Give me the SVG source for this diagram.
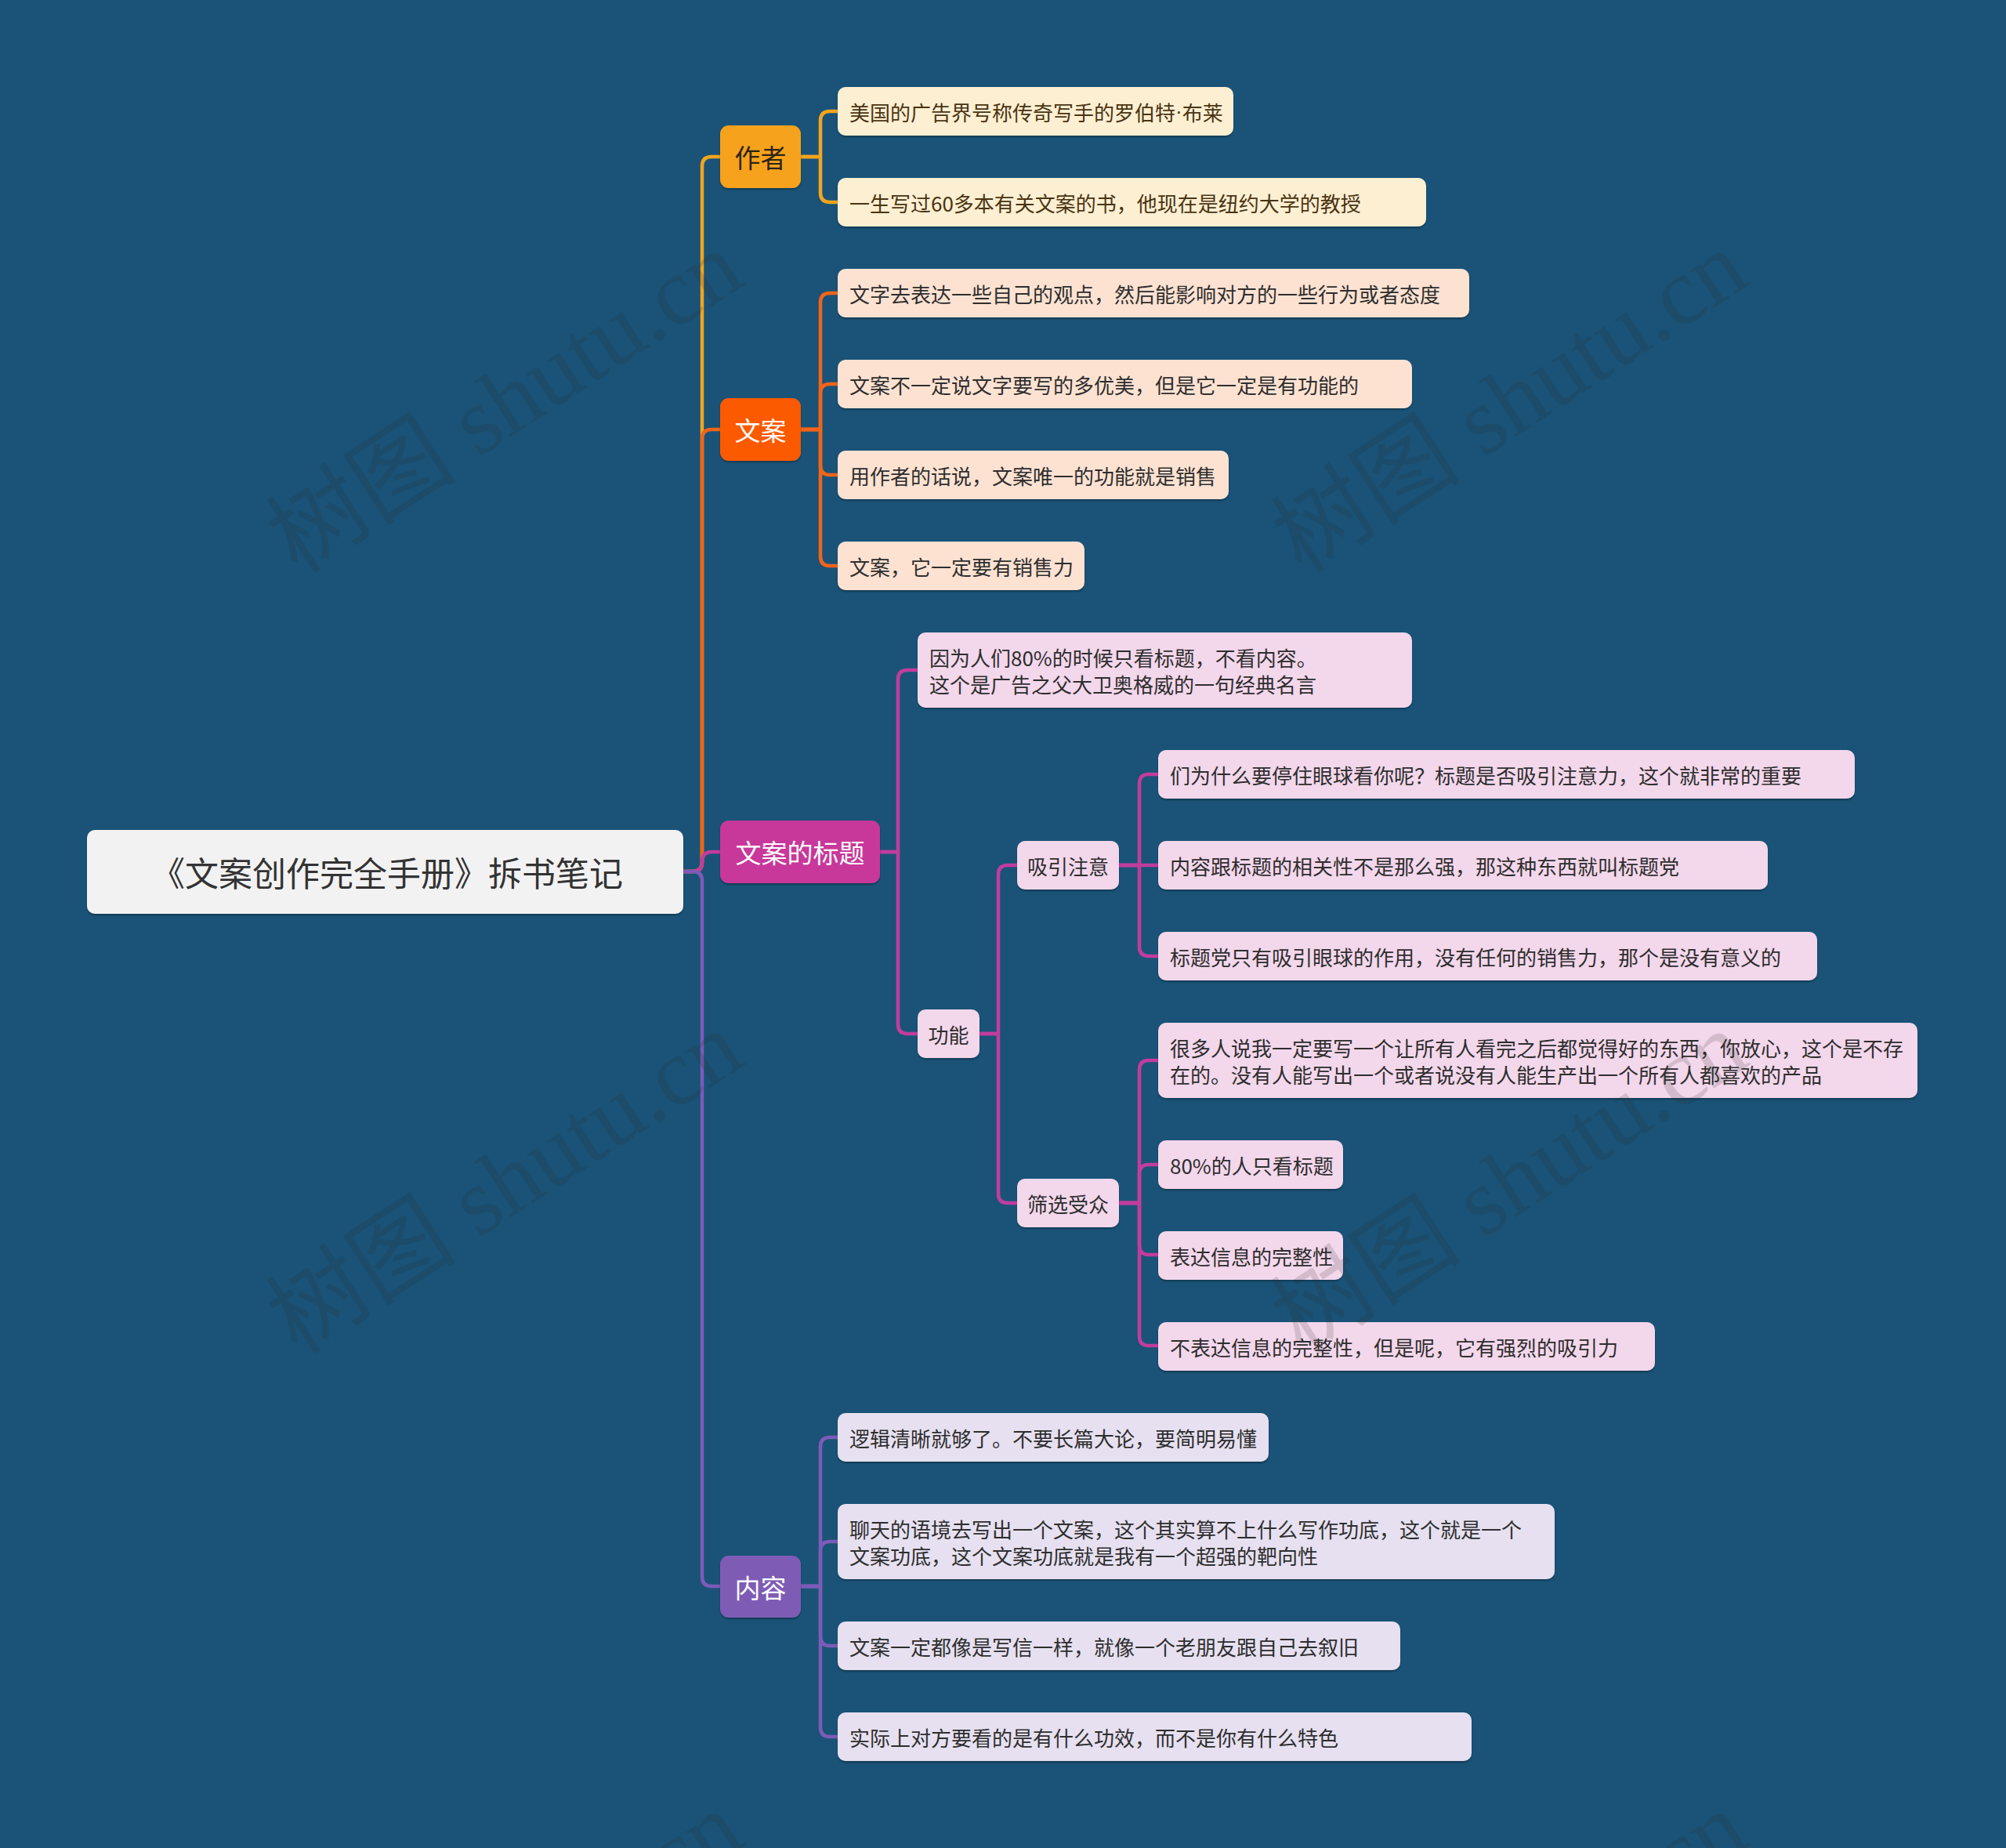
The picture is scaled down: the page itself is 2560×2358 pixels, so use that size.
<svg xmlns="http://www.w3.org/2000/svg" width="2560" height="2358" viewBox="0 0 2560 2358">
<defs>
<filter id="sh" x="-5%" y="-10%" width="110%" height="130%"><feDropShadow dx="0" dy="2" stdDeviation="1.2" flood-color="#000" flood-opacity="0.3"/></filter>
</defs>
<style>
text{font-family:"Noto Sans CJK SC","Noto Sans",sans-serif;dominant-baseline:central}
.leaf{font-size:26px;fill:#2e2e2e}
.topic{font-size:33px;fill:#fff;text-anchor:middle}
.sub{font-size:26px;fill:#2e2e2e;text-anchor:middle}
.y{fill:#FDEFD2}.o{fill:#FDE2D2}.m{fill:#F3D7EB}.p{fill:#E6E0F0}
.cy{stroke:#F2A51F}.co{stroke:#F26418}.cm{stroke:#C23C9E}.cp{stroke:#7D5BB8}
#connectors path{fill:none;stroke-width:4.5;stroke-linecap:round;stroke-linejoin:round}
.wm{font-family:"Liberation Serif","Noto Sans CJK SC",serif;font-size:122px;fill:#2a2a2a;fill-opacity:0.16;dominant-baseline:auto}
</style>
<rect width="2560" height="2358" fill="#1a5377"/>
<g id="connectors">
<path class="cy" d="M872 1112 H884 Q896 1112 896 1100 V212 Q896 200 908 200 H919"/>
<path class="co" d="M872 1112 H884 Q896 1112 896 1100 V560 Q896 548 908 548 H919"/>
<path class="cm" d="M872 1112 H884 Q896 1112 896 1100 Q896 1087 908 1087 H919"/>
<path class="cp" d="M872 1112 H884 Q896 1112 896 1124 V2012 Q896 2024 908 2024 H919"/>
<path class="cy" d="M1022 200 H1047 V154 Q1047 142 1059 142 H1069"/>
<path class="cy" d="M1022 200 H1047 V246 Q1047 258 1059 258 H1069"/>
<path class="co" d="M1022 548 H1047 V386 Q1047 374 1059 374 H1069"/>
<path class="co" d="M1022 548 H1047 V502 Q1047 490 1059 490 H1069"/>
<path class="co" d="M1022 548 H1047 V594 Q1047 606 1059 606 H1069"/>
<path class="co" d="M1022 548 H1047 V710 Q1047 722 1059 722 H1069"/>
<path class="cm" d="M1123 1087 H1146 V867 Q1146 855 1158 855 H1171"/>
<path class="cm" d="M1123 1087 H1146 V1307 Q1146 1319 1158 1319 H1171"/>
<path class="cm" d="M1250 1319 H1274 V1116 Q1274 1104 1286 1104 H1298"/>
<path class="cm" d="M1250 1319 H1274 V1523 Q1274 1535 1286 1535 H1298"/>
<path class="cm" d="M1428 1104 H1454 V1000 Q1454 988 1466 988 H1478"/>
<path class="cm" d="M1428 1104 H1478"/>
<path class="cm" d="M1428 1104 H1454 V1208 Q1454 1220 1466 1220 H1478"/>
<path class="cm" d="M1428 1535 H1454 V1365 Q1454 1353 1466 1353 H1478"/>
<path class="cm" d="M1428 1535 H1454 V1498 Q1454 1486 1466 1486 H1478"/>
<path class="cm" d="M1428 1535 H1454 V1589 Q1454 1601 1466 1601 H1478"/>
<path class="cm" d="M1428 1535 H1454 V1705 Q1454 1717 1466 1717 H1478"/>
<path class="cp" d="M1022 2024 H1047 V1846 Q1047 1834 1059 1834 H1069"/>
<path class="cp" d="M1022 2024 H1047 V1979 Q1047 1967 1059 1967 H1069"/>
<path class="cp" d="M1022 2024 H1047 V2088 Q1047 2100 1059 2100 H1069"/>
<path class="cp" d="M1022 2024 H1047 V2204 Q1047 2216 1059 2216 H1069"/>
</g>
<g id="root"><rect x="111" y="1059" width="761" height="107" rx="10" fill="#F2F2F2" filter="url(#sh)"/><text x="494" y="1112" font-size="43" fill="#333" text-anchor="middle">《文案创作完全手册》拆书笔记</text></g>
<g id="t-author"><rect x="919" y="160" width="103" height="80" rx="11" fill="#F6A21E" filter="url(#sh)"/><text class="topic" x="970.5" y="200" style="fill:#2d2418">作者</text></g>
<g id="t-copy"><rect x="919" y="508" width="103" height="80" rx="11" fill="#FC5A06" filter="url(#sh)"/><text class="topic" x="970.5" y="548">文案</text></g>
<g id="t-title"><rect x="919" y="1047" width="204" height="80" rx="11" fill="#C8379A" filter="url(#sh)"/><text class="topic" x="1021" y="1087">文案的标题</text></g>
<g id="t-content"><rect x="919" y="1985" width="103" height="79" rx="11" fill="#7E5BB6" filter="url(#sh)"/><text class="topic" x="970.5" y="2024.5">内容</text></g>
<g id="a1"><rect class="y" x="1069" y="111" width="505" height="62" rx="10" filter="url(#sh)"/><text class="leaf" x="1084" y="142" style="fill:#4a3412">美国的广告界号称传奇写手的罗伯特<tspan style="font-family:'Liberation Sans',sans-serif">·</tspan>布莱</text></g>
<g id="a2"><rect class="y" x="1069" y="227" width="751" height="62" rx="10" filter="url(#sh)"/><text class="leaf" x="1084" y="258" style="fill:#4a3412">一生写过60多本有关文案的书，他现在是纽约大学的教授</text></g>
<g id="c1"><rect class="o" x="1069" y="343" width="806" height="62" rx="10" filter="url(#sh)"/><text class="leaf" x="1084" y="374">文字去表达一些自己的观点，然后能影响对方的一些行为或者态度</text></g>
<g id="c2"><rect class="o" x="1069" y="459" width="733" height="62" rx="10" filter="url(#sh)"/><text class="leaf" x="1084" y="490">文案不一定说文字要写的多优美，但是它一定是有功能的</text></g>
<g id="c3"><rect class="o" x="1069" y="575" width="499" height="62" rx="10" filter="url(#sh)"/><text class="leaf" x="1084" y="606">用作者的话说，文案唯一的功能就是销售</text></g>
<g id="c4"><rect class="o" x="1069" y="691" width="315" height="62" rx="10" filter="url(#sh)"/><text class="leaf" x="1084" y="722">文案，它一定要有销售力</text></g>
<g id="h1"><rect class="m" x="1171" y="807" width="631" height="96" rx="10" filter="url(#sh)"/><text class="leaf" x="1186" y="838">因为人们80%的时候只看标题，不看内容。</text><text class="leaf" x="1186" y="872">这个是广告之父大卫奥格威的一句经典名言</text></g>
<g id="h-attn"><rect class="m" x="1298" y="1073" width="130" height="62" rx="10" filter="url(#sh)"/><text class="sub" x="1363" y="1104">吸引注意</text></g>
<g id="h-a1"><rect class="m" x="1478" y="957" width="889" height="62" rx="10" filter="url(#sh)"/><text class="leaf" x="1493" y="988">们为什么要停住眼球看你呢？标题是否吸引注意力，这个就非常的重要</text></g>
<g id="h-a2"><rect class="m" x="1478" y="1073" width="778" height="62" rx="10" filter="url(#sh)"/><text class="leaf" x="1493" y="1104">内容跟标题的相关性不是那么强，那这种东西就叫标题党</text></g>
<g id="h-a3"><rect class="m" x="1478" y="1189" width="841" height="62" rx="10" filter="url(#sh)"/><text class="leaf" x="1493" y="1220">标题党只有吸引眼球的作用，没有任何的销售力，那个是没有意义的</text></g>
<g id="h-func"><rect class="m" x="1171" y="1288" width="79" height="62" rx="10" filter="url(#sh)"/><text class="sub" x="1210.5" y="1319">功能</text></g>
<g id="h-filter"><rect class="m" x="1298" y="1504" width="130" height="62" rx="10" filter="url(#sh)"/><text class="sub" x="1363" y="1535">筛选受众</text></g>
<g id="h-f1"><rect class="m" x="1478" y="1305" width="969" height="96" rx="10" filter="url(#sh)"/><text class="leaf" x="1493" y="1336">很多人说我一定要写一个让所有人看完之后都觉得好的东西，你放心，这个是不存</text><text class="leaf" x="1493" y="1370">在的。没有人能写出一个或者说没有人能生产出一个所有人都喜欢的产品</text></g>
<g id="h-f2"><rect class="m" x="1478" y="1455" width="236" height="62" rx="10" filter="url(#sh)"/><text class="leaf" x="1493" y="1486">80%的人只看标题</text></g>
<g id="h-f3"><rect class="m" x="1478" y="1571" width="236" height="62" rx="10" filter="url(#sh)"/><text class="leaf" x="1493" y="1602">表达信息的完整性</text></g>
<g id="h-f4"><rect class="m" x="1478" y="1687" width="634" height="62" rx="10" filter="url(#sh)"/><text class="leaf" x="1493" y="1718">不表达信息的完整性，但是呢，它有强烈的吸引力</text></g>
<g id="n1"><rect class="p" x="1069" y="1803" width="550" height="62" rx="10" filter="url(#sh)"/><text class="leaf" x="1084" y="1834">逻辑清晰就够了。不要长篇大论，要简明易懂</text></g>
<g id="n2"><rect class="p" x="1069" y="1919" width="915" height="96" rx="10" filter="url(#sh)"/><text class="leaf" x="1084" y="1950">聊天的语境去写出一个文案，这个其实算不上什么写作功底，这个就是一个</text><text class="leaf" x="1084" y="1984">文案功底，这个文案功底就是我有一个超强的靶向性</text></g>
<g id="n3"><rect class="p" x="1069" y="2069" width="718" height="62" rx="10" filter="url(#sh)"/><text class="leaf" x="1084" y="2100">文案一定都像是写信一样，就像一个老朋友跟自己去叙旧</text></g>
<g id="n4"><rect class="p" x="1069" y="2185" width="809" height="62" rx="10" filter="url(#sh)"/><text class="leaf" x="1084" y="2216">实际上对方要看的是有什么功效，而不是你有什么特色</text></g>
<g id="watermarks">
<text class="wm" transform="translate(645 514) rotate(-33)" text-anchor="middle" y="40">树图 shutu.cn</text>
<text class="wm" transform="translate(1927 514) rotate(-33)" text-anchor="middle" y="40">树图 shutu.cn</text>
<text class="wm" transform="translate(645 1510) rotate(-33)" text-anchor="middle" y="40">树图 shutu.cn</text>
<text class="wm" transform="translate(1927 1510) rotate(-33)" text-anchor="middle" y="40">树图 shutu.cn</text>
<text class="wm" transform="translate(645 2506) rotate(-33)" text-anchor="middle" y="40">树图 shutu.cn</text>
<text class="wm" transform="translate(1927 2506) rotate(-33)" text-anchor="middle" y="40">树图 shutu.cn</text>
</g>
</svg>
